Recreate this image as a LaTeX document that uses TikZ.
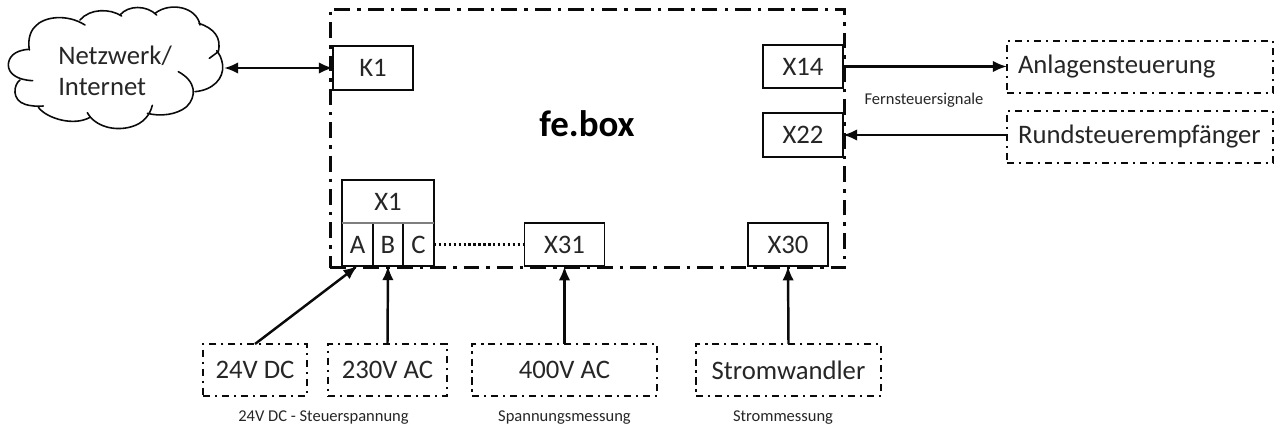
\documentclass[tikz,border=0pt]{standalone}
\usepackage{fontspec}
\setmainfont{Carlito}
\usetikzlibrary{arrows.meta,positioning}
\definecolor{LineBlack}{HTML}{0A0A0A}
\definecolor{DividerGray}{HTML}{7F7F7F}
\definecolor{NoteGray}{HTML}{262626}
\tikzset{
  portbox/.style={draw=LineBlack,line width=1.1pt,fill=white,outer sep=0pt,inner sep=0pt,text=NoteGray,font=\fontsize{15.2}{18}\selectfont},
  extbox/.style={draw=LineBlack,line width=1pt,dash pattern=on 4pt off 2.8pt on 1.2pt off 2.8pt,outer sep=0pt,inner sep=0pt,text=NoteGray,font=\fontsize{15.2}{18}\selectfont},
  link/.style={-{Latex[length=8pt,width=6.5pt]},line width=1.4pt,draw=LineBlack},
  note/.style={font=\fontsize{9.4}{11}\selectfont,text=NoteGray,inner sep=0pt},
  puff/.style={draw=LineBlack,line width=0.9pt,line cap=round},
}
\begin{document}
\begin{tikzpicture}[x=0.02cm,y=-0.02cm,>=Latex]
  \useasboundingbox (0,0) rectangle (1279,429);
  % main housing
  \node[draw=LineBlack,line width=1.7pt,dash pattern=on 9pt off 4pt on 2pt off 4pt,outer sep=0pt,minimum width=10.3cm,minimum height=5.18cm] (febox) at (587.5,138.5) {};
  \node[font=\bfseries\fontsize{21}{24}\selectfont,inner sep=0pt] (febox label) at (587,124) {fe.box};
  % ports
  \foreach \n/\t/\px/\py in {k1/K1/373/68,x14/X14/803/66.5,x22/X22/803/135,x31/X31/564.5/244.5,x30/X30/788/244.5}{
    \node[portbox,minimum width=1.6cm,minimum height=0.87cm] (\n) at (\px,\py) {\t};
  }
  \node[portbox,minimum width=1.84cm,minimum height=0.86cm] (x1) at (388,201.5) {X1};
  \foreach \n/\t/\px/\w in {a/A/357.5/0.62cm,b/B/388/0.6cm,c/C/418.5/0.62cm}{
    \node[portbox,minimum width=\w,minimum height=0.86cm] (\n) at (\px,244.5) {\t};
  }
  \draw[DividerGray,line width=0.8pt] (a.north west) -- (c.north east);
  % cloud, typed in thirds of a pixel
  \begin{scope}[x=0.00667cm,y=-0.00667cm]
    \draw[puff] (88,148) .. controls (40,150) and (25,175) .. (25,195) .. controls (25,220) and (50,240) .. (98,242);
    \draw[puff] (60,240) .. controls (40,255) and (35,300) .. (75,313) .. controls (90,318) and (115,320) .. (130,318);
    \draw[puff] (115,322) .. controls (140,355) and (220,380) .. (270,352);
    \draw[puff] (262,338) .. controls (285,380) and (345,395) .. (395,380) .. controls (430,370) and (450,345) .. (457,316);
    \draw[puff] (442,340) .. controls (480,350) and (530,345) .. (560,320) .. controls (590,290) and (590,245) .. (535,215);
    \draw[puff] (585,275) .. controls (640,270) and (672,235) .. (668,195) .. controls (665,175) and (660,165) .. (650,152);
    \draw[puff] (655,155) -- (628,175);
    \draw[puff] (655,155) .. controls (665,110) and (640,85) .. (597,70);
    \draw[puff] (600,75) .. controls (590,20) and (510,5) .. (465,40);
    \draw[puff] (470,45) .. controls (440,15) and (385,15) .. (360,45);
    \draw[puff] (365,48) .. controls (330,25) and (270,25) .. (240,60);
    \draw[puff] (255,75) .. controls (200,40) and (130,50) .. (105,80) .. controls (85,100) and (85,130) .. (88,150);
  \end{scope}
  \node[align=left,inner sep=0pt,text=NoteGray,font=\fontsize{15.2}{18}\selectfont] (net) at (115,71) {Netzwerk/\\Internet};
  \coordinate (net port) at (224,68);
  % external devices
  \node[extbox,minimum width=5.32cm,minimum height=1.04cm,anchor=west,text width=4.88cm] (anlage) at (1007,67) {Anlagensteuerung};
  \node[extbox,minimum width=5.32cm,minimum height=1.04cm,anchor=west,text width=4.88cm] (rund) at (1007,137) {Rundsteuerempfänger};
  \node[extbox,minimum width=2.08cm,minimum height=1.04cm] (dc24) at (255,370) {24V DC};
  \node[extbox,minimum width=2.38cm,minimum height=1.04cm] (ac230) at (387.5,370) {230V AC};
  \node[extbox,minimum width=3.7cm,minimum height=1.04cm] (ac400) at (564.5,370) {400V AC};
  \node[extbox,minimum width=3.7cm,minimum height=1.04cm] (wandler) at (788.5,370) {Stromwandler};
  % connections
  \draw[link,{Latex[length=8pt,width=6.5pt]}-{Latex[length=8pt,width=6.5pt]}] (net port) -- (k1.west);
  \draw[link] (x14.east) -- (x14.east -| anlage.west);
  \draw[link] (x22.east -| rund.west) -- (x22.east);
  \draw[link] (dc24.north) -- (a.south);
  \draw[link] (ac230.north) -- (b.south);
  \draw[link] (ac400.north) -- (x31.south);
  \draw[link] (wandler.north) -- (x30.south);
  \draw[LineBlack,line width=1.3pt,dash pattern=on 1.4pt off 1.4pt] (c.east) -- (x31.west);
  % captions
  \node[note] (cap fern) at (924,100) {Fernsteuersignale};
  \node[note] (cap dc) at (323.5,417.5) {24V DC - Steuerspannung};
  \node[note] (cap mess) at (564.5,418) {Spannungsmessung};
  \node[note] (cap strom) at (783,417.5) {Strommessung};
\end{tikzpicture}
\end{document}
